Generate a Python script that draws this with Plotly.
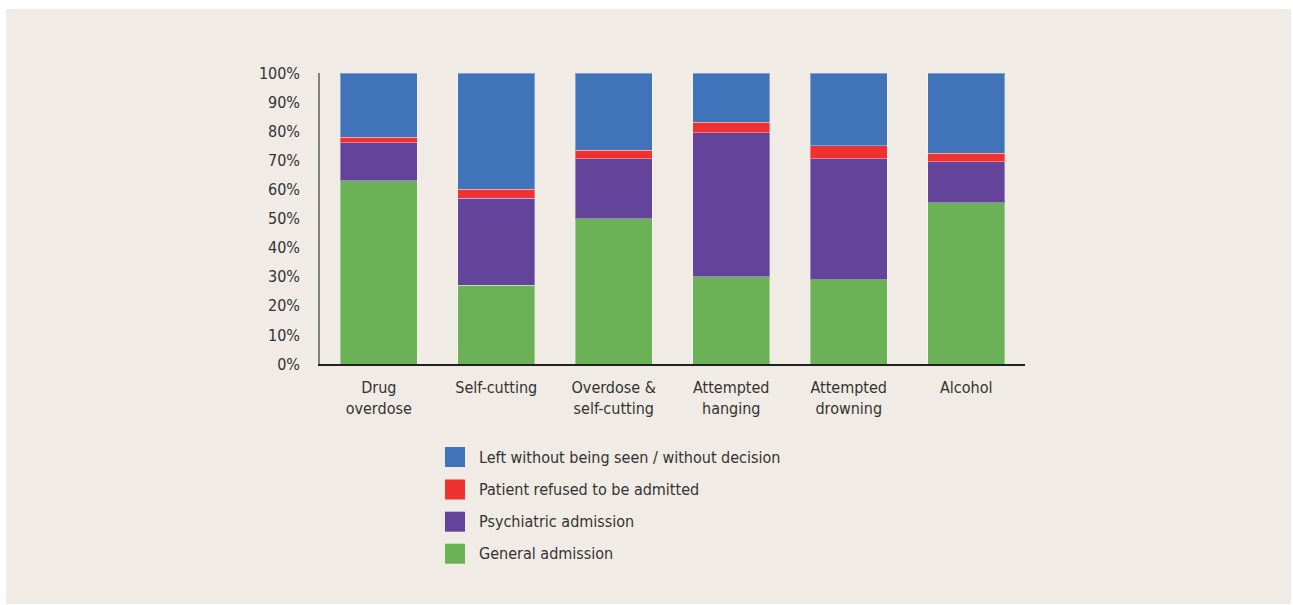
import plotly.graph_objects as go

categories = ["Drug<br>overdose", "Self-cutting", "Overdose &amp;<br>self-cutting",
              "Attempted<br>hanging", "Attempted<br>drowning", "Alcohol"]

general_admission = [63, 27, 50, 30, 29, 55.5]
psychiatric_admission = [13, 30, 20.5, 49.5, 41.5, 14]
patient_refused = [2, 3, 3, 3.5, 4.5, 3]
left_without_seen = [22, 40, 26.5, 17, 25, 27.5]

series_names = ["General admission", "Psychiatric admission",
                "Patient refused to be admitted",
                "Left without being seen / without decision"]
series_values = [general_admission, psychiatric_admission, patient_refused, left_without_seen]
series_colors = ["#6BB257", "#64449A", "#EE3231", "#4073B9"]

y_ticks = list(range(0, 101, 10))
y_tick_labels = [f"{v}%" for v in y_ticks]

FONT = "DejaVu Sans Condensed, Liberation Sans Narrow, Liberation Sans, sans-serif"
FS = 16
TEXT = "#333333"

W, H = 1293, 605
L, R, T, B = 320, 268, 73, 241
PW, PH = W - L - R, H - T - B


def px_x(px):
    return (px - L) / PW


def px_y(py):
    return (H - B - py) / PH


fig = go.Figure()
for name, vals, col in zip(series_names, series_values, series_colors):
    fig.add_trace(go.Bar(
        x=categories, y=vals, name=name,
        marker=dict(color=col, line=dict(color="rgba(255,255,255,0.35)", width=1)),
        showlegend=False,
    ))

shapes = [dict(type="rect", xref="paper", yref="paper",
               x0=px_x(6), x1=px_x(1291), y0=px_y(604), y1=px_y(9),
               fillcolor="#F0EBE5", line=dict(width=0), layer="below")]
annotations = []

# legend (top entry = last series)
row_centers = [457, 489.5, 521.7, 553.7]
for i, (name, col) in enumerate(zip(series_names[::-1], series_colors[::-1])):
    cy = row_centers[i]
    shapes.append(dict(type="rect", xref="paper", yref="paper",
                       x0=px_x(445), x1=px_x(465), y0=px_y(cy + 10), y1=px_y(cy - 10),
                       fillcolor=col, line=dict(width=0)))
    annotations.append(dict(xref="paper", yref="paper", x=px_x(477), y=px_y(cy),
                            xanchor="left", yanchor="middle", text=name, showarrow=False,
                            font=dict(family=FONT, size=FS, color=TEXT)))

fig.update_layout(
    width=W, height=H,
    margin=dict(l=L, r=R, t=T, b=B, pad=0),
    barmode="stack", bargap=0.345,
    paper_bgcolor="white", plot_bgcolor="rgba(0,0,0,0)",
    font=dict(family=FONT, size=FS, color=TEXT),
    showlegend=False,
    shapes=shapes, annotations=annotations,
    xaxis=dict(showline=True, linecolor="#222222", linewidth=2, showgrid=False,
               ticks="", tickfont=dict(size=FS, color=TEXT), ticklabelstandoff=8,
               fixedrange=True),
    yaxis=dict(range=[0, 100], tickvals=y_ticks, ticktext=y_tick_labels,
               showline=True, linecolor="#808080", linewidth=1.5, showgrid=False,
               zeroline=False, ticks="", tickfont=dict(size=FS, color=TEXT),
               ticklabelstandoff=15, fixedrange=True),
)

fig.write_html("out.html", config={"displayModeBar": False},
               post_script="document.body.style.margin='0';")
